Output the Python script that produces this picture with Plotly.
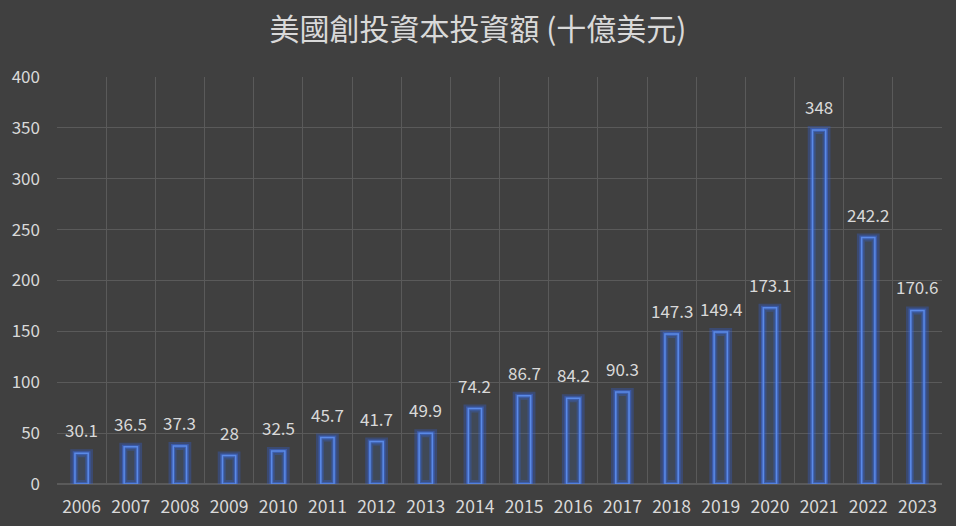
import plotly.graph_objects as go

years = ["2006", "2007", "2008", "2009", "2010", "2011", "2012", "2013", "2014",
         "2015", "2016", "2017", "2018", "2019", "2020", "2021", "2022", "2023"]
amounts = [30.1, 36.5, 37.3, 28, 32.5, 45.7, 41.7, 49.9, 74.2,
           86.7, 84.2, 90.3, 147.3, 149.4, 173.1, 348, 242.2, 170.6]
y_ticks = [0, 50, 100, 150, 200, 250, 300, 350, 400]

font_main = "Noto Sans CJK TC, Noto Sans, sans-serif"
txt = "#d9d9d9"

fig = go.Figure()

# soft glow behind each bar
fig.add_trace(go.Bar(
    x=years, y=amounts, width=0.3,
    marker=dict(color="rgba(0,0,0,0)",
                line=dict(color="rgba(50,100,230,0.3)", width=8)),
    hoverinfo="skip", showlegend=False,
))
fig.add_trace(go.Bar(
    x=years, y=amounts, width=0.28,
    marker=dict(color="rgba(0,0,0,0)",
                line=dict(color="rgba(60,110,235,0.45)", width=4)),
    hoverinfo="skip", showlegend=False,
))

# the bars themselves
fig.add_trace(go.Bar(
    x=years, y=amounts, width=0.27,
    marker=dict(color="rgba(68,114,196,0.18)",
                line=dict(color="#5b8ae6", width=1.5)),
    showlegend=False,
))

# value labels above the bars
for i, v in enumerate(amounts):
    fig.add_annotation(
        x=i, y=v, xref="x", yref="y", text=f"{v:g}", showarrow=False,
        yanchor="bottom", yshift=9,
        font=dict(color=txt, size=17, family=font_main),
    )

fig.update_layout(
    width=956, height=526,
    barmode="overlay",
    paper_bgcolor="#404040", plot_bgcolor="#404040",
    margin=dict(l=55, r=14, t=77, b=42),
    title=dict(text="美國創投資本投資額 (十億美元)", x=0.5, xanchor="center",
               y=0.943, yanchor="middle",
               font=dict(size=30, color=txt, family=font_main)),
    font=dict(family=font_main, color=txt),
)
fig.update_xaxes(
    type="category", tickson="boundaries", showgrid=True,
    gridcolor="#5a5a5a", gridwidth=1, ticks="", showline=False,
    tickfont=dict(size=17.5, color=txt), range=[-0.5, len(years) - 0.5],
    ticklabelstandoff=10, automargin=False,
)
fig.update_yaxes(
    range=[0, 400], tickvals=y_ticks, showgrid=True,
    gridcolor="#5a5a5a", gridwidth=1, zeroline=True, zerolinecolor="#5a5a5a",
    tickfont=dict(size=17, color=txt), ticklabelstandoff=16,
)

fig.write_html("out.html", config={"displayModeBar": False},
               post_script="document.body.style.margin='0';")
